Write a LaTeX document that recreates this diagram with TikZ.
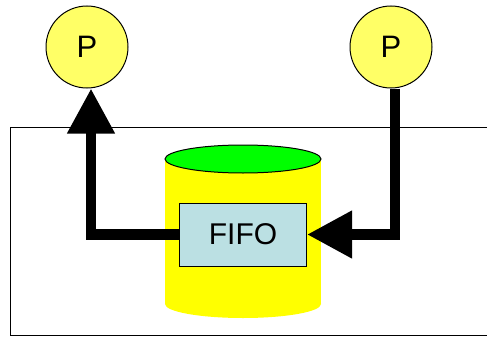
\documentclass[tikz,border=0pt]{standalone}
\usepackage{fontspec}
\setmainfont{Liberation Sans}
\usetikzlibrary{arrows.meta}
\definecolor{pfill}{HTML}{FFFF66}
\definecolor{fifofill}{HTML}{BBE0E3}
\definecolor{cylyellow}{HTML}{FFFF00}
\definecolor{cylgreen}{HTML}{00FF00}
\tikzset{
  proc/.style={circle, draw=black, line width=1pt, fill=pfill, minimum size=82pt, inner sep=0pt, font=\fontsize{31}{31}\selectfont},
  fifobox/.style={rectangle, draw=black, line width=1pt, fill=fifofill, minimum width=127pt, minimum height=63pt, inner sep=0pt, font=\fontsize{30}{30}\selectfont},
  flow/.style={line width=10.5pt, -{Triangle[length=45pt,width=45pt]}},
}
\begin{document}
\begin{tikzpicture}[x=1pt,y=-1pt]
\useasboundingbox (0,0) rectangle (487,337);
% outer frame
\draw[line width=1pt] (10,127) rectangle (495,335);
% cylinder
\fill[cylyellow] (165,159) rectangle (321,304);
\fill[cylyellow] (243,304) ellipse [x radius=78, y radius=14];
\draw[line width=1pt, fill=cylgreen] (243,159) ellipse [x radius=78, y radius=14];
% nodes
\node[proc] (pl) at (87,47) {P};
\node[proc] (pr) at (391,47) {P};
\node[fifobox] (fifo) at (243,234.5) {FIFO};
\coordinate (lc) at (91,234.5);
\coordinate (rc) at (395,234.5);
% connectors
\draw[flow] (fifo.west) -- (lc) -- ([xshift=4pt]pl.south);
\draw[flow] ([xshift=4pt]pr.south) -- (rc) -- (fifo.east);
\end{tikzpicture}
\end{document}
